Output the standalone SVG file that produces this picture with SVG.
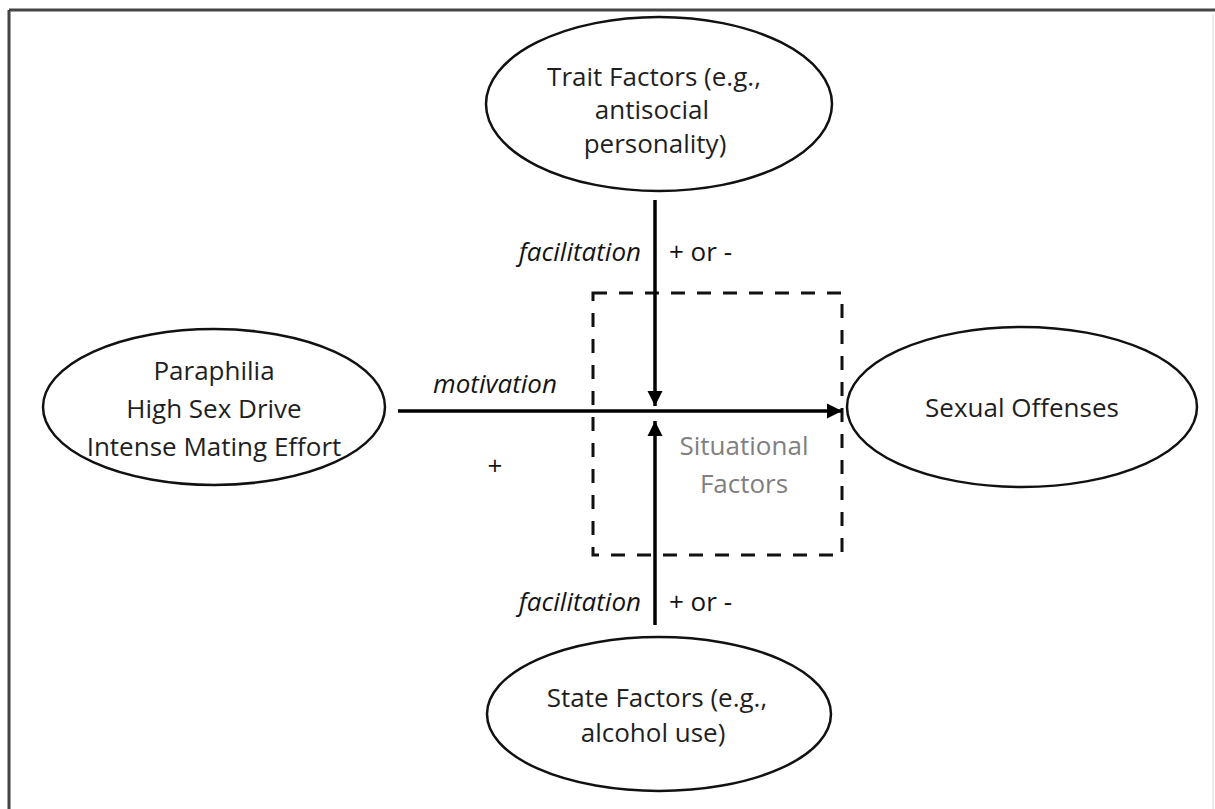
<svg xmlns="http://www.w3.org/2000/svg" width="1215" height="809" viewBox="0 0 1215 809">
  <style>
    .node { fill: #ffffff; stroke: #111111; stroke-width: 2.5; }
    .t { font-family: "Open Sans", "Liberation Sans", sans-serif; font-size: 26px; fill: #1f1f1f; text-anchor: middle; }
    .lbl { font-family: "Open Sans", "Liberation Sans", sans-serif; font-size: 26px; fill: #141414; }
    .it { font-style: italic; }
    .conn { stroke: #000000; stroke-width: 3.5; fill: none; }
    .sit { fill: none; stroke: #111111; stroke-width: 3; stroke-dasharray: 14 12; }
    .gray { font-family: "Open Sans", "Liberation Sans", sans-serif; font-size: 26px; fill: #808080; text-anchor: middle; }
  </style>
  <defs>
    <marker id="arrow" markerUnits="userSpaceOnUse" markerWidth="16" markerHeight="16" viewBox="0 0 16 16" refX="15" refY="8" orient="auto">
      <path d="M0,0.5 L15,8 L0,15.5 Z" fill="#000000"/>
    </marker>
  </defs>
  <rect x="0" y="0" width="1215" height="809" fill="#ffffff"/>
  <g id="frame">
    <line x1="9" y1="10" x2="1215" y2="10" stroke="#444444" stroke-width="3"/>
    <line x1="9" y1="10" x2="9" y2="809" stroke="#444444" stroke-width="3"/>
    <line x1="1213" y1="14" x2="1213" y2="809" stroke="#e6e6e6" stroke-width="1.5"/>
  </g>
  <g id="situational">
    <rect class="sit" x="593" y="293" width="249" height="262"/>
    <text class="gray" x="744" y="455">Situational</text>
    <text class="gray" x="744" y="493">Factors</text>
  </g>
  <g id="connectors">
    <line class="conn" x1="398" y1="411" x2="842" y2="411" marker-end="url(#arrow)"/>
    <line class="conn" x1="655" y1="200" x2="655" y2="406" marker-end="url(#arrow)"/>
    <line class="conn" x1="655" y1="625" x2="655" y2="421" marker-end="url(#arrow)"/>
    <text class="lbl it" x="641" y="261" text-anchor="end">facilitation</text>
    <text class="lbl" x="669" y="261">+ or -</text>
    <text class="lbl it" x="495" y="393" text-anchor="middle">motivation</text>
    <text class="lbl" x="495" y="475" text-anchor="middle">+</text>
    <text class="lbl it" x="641" y="611" text-anchor="end">facilitation</text>
    <text class="lbl" x="669" y="611">+ or -</text>
  </g>
  <g id="trait">
    <ellipse class="node" cx="659" cy="104" rx="173" ry="87"/>
    <text class="t" x="654" y="86">Trait Factors (e.g.,</text>
    <text class="t" x="652" y="119">antisocial</text>
    <text class="t" x="655" y="153">personality)</text>
  </g>
  <g id="motivation-source">
    <ellipse class="node" cx="214" cy="407" rx="171" ry="78"/>
    <text class="t" x="214" y="380">Paraphilia</text>
    <text class="t" x="214" y="418">High Sex Drive</text>
    <text class="t" x="214" y="456">Intense Mating Effort</text>
  </g>
  <g id="offenses">
    <ellipse class="node" cx="1022" cy="407" rx="175" ry="80"/>
    <text class="t" x="1022" y="417">Sexual Offenses</text>
  </g>
  <g id="state">
    <ellipse class="node" cx="659" cy="714" rx="172" ry="77"/>
    <text class="t" x="657" y="707">State Factors (e.g.,</text>
    <text class="t" x="653" y="742">alcohol use)</text>
  </g>
</svg>
